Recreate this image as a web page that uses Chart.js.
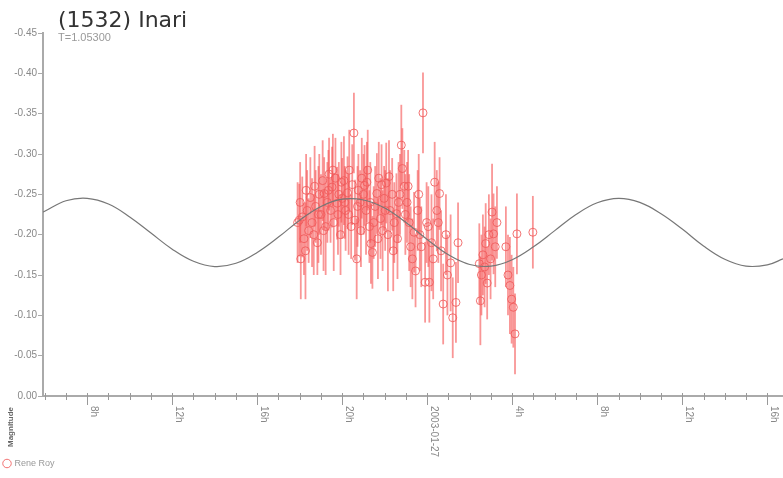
<!DOCTYPE html>
<html>
<head>
<meta charset="utf-8">
<script src="https://cdn.jsdelivr.net/npm/chart.js@4/dist/chart.umd.min.js"></script>
<style>
  html, body { margin: 0; padding: 0; background: #fff; }
  #wrap { width: 783px; height: 478px; }
</style>
</head>
<body>
<div id="wrap"><canvas id="lightcurve"></canvas></div>
<script>
// hours counted from 2003-01-26 00:00
const curveHours = [5.92, 6, 7, 8, 9, 10, 11, 12, 13, 14, 15, 16, 17, 18, 19, 20, 21, 22, 23, 24,
  25, 26, 27, 28, 29, 30, 31, 32, 33, 34, 35, 36, 37, 38, 39, 40, 40.74];
const curveMags = [-0.228, -0.229, -0.242, -0.245, -0.238, -0.222, -0.202, -0.182, -0.167, -0.1605,
  -0.1645, -0.178, -0.197, -0.218, -0.235, -0.244, -0.243, -0.233, -0.215, -0.194,
  -0.175, -0.163, -0.161, -0.169, -0.185, -0.205, -0.225, -0.2395, -0.245, -0.240,
  -0.226, -0.207, -0.186, -0.1695, -0.161, -0.1625, -0.170];

// Rene Roy observations
const obsHours = [
  17.90, 17.98, 18.02, 18.05, 18.12, 18.20, 18.27, 18.30, 18.35, 18.42,
  18.50, 18.58, 18.66, 18.70, 18.75, 18.83, 18.88, 18.92, 19.00, 19.08,
  19.12, 19.15, 19.22, 19.30, 19.35, 19.38, 19.45, 19.52, 19.56, 19.60,
  19.68, 19.76, 19.80, 19.84, 19.92, 19.96, 20.00, 20.08, 20.12, 20.16,
  20.25, 20.30, 20.33, 20.42, 20.47, 20.55, 20.60, 20.68, 20.72, 20.76,
  20.84, 20.88, 20.92, 21.00, 21.05, 21.12, 21.16, 21.20, 21.28, 21.32,
  21.35, 21.42, 21.48, 21.55, 21.63, 21.68, 21.72, 21.80, 21.85, 21.90,
  21.97, 22.02, 22.07, 22.15, 22.20, 22.25, 22.35, 22.40, 22.45, 22.55,
  22.60, 22.65, 22.72, 22.78, 22.83, 22.92, 22.97, 23.05, 23.10, 23.15,
  23.22, 23.30, 23.38, 23.45, 23.55, 23.60, 23.65, 23.72, 23.80, 23.90,
  23.97, 24.05, 24.10, 24.20, 24.28, 24.35, 24.45, 24.52, 24.58, 24.65,
  24.75, 24.88, 24.95, 25.10, 25.20, 25.35, 25.45, 26.45, 26.50, 26.55,
  26.62, 26.70, 26.75, 26.82, 26.90, 26.98, 27.05, 27.12, 27.20, 27.28,
  27.70, 27.80, 27.89, 27.97, 28.05, 28.13, 28.22, 28.97
];
const obsMags = [
  -0.215, -0.218, -0.240, -0.170, -0.222, -0.195, -0.180, -0.255, -0.230, -0.205,
  -0.246, -0.215, -0.200, -0.260, -0.235, -0.190, -0.225, -0.250, -0.225, -0.267,
  -0.205, -0.251, -0.210, -0.240, -0.255, -0.275, -0.230, -0.259, -0.280, -0.215,
  -0.270, -0.239, -0.225, -0.250, -0.200, -0.265, -0.245, -0.267, -0.240, -0.230,
  -0.252, -0.225, -0.280, -0.210, -0.262, -0.326, -0.218, -0.170, -0.235, -0.255,
  -0.240, -0.205, -0.270, -0.250, -0.261, -0.230, -0.265, -0.280, -0.210, -0.240,
  -0.189, -0.178, -0.215, -0.235, -0.251, -0.195, -0.270, -0.220, -0.262, -0.205,
  -0.245, -0.230, -0.264, -0.200, -0.272, -0.230, -0.250, -0.180, -0.215, -0.226,
  -0.195, -0.240, -0.250, -0.311, -0.282, -0.260, -0.225, -0.240, -0.260, -0.215,
  -0.185, -0.170, -0.203, -0.155, -0.230, -0.250, -0.200, -0.185, -0.351, -0.141,
  -0.215, -0.210, -0.141, -0.190, -0.170, -0.265, -0.230, -0.215, -0.251, -0.180,
  -0.114, -0.200, -0.150, -0.165, -0.097, -0.116, -0.190, -0.164, -0.118, -0.150,
  -0.175, -0.160, -0.189, -0.140, -0.200, -0.170, -0.228, -0.201, -0.185, -0.215,
  -0.185, -0.150, -0.137, -0.120, -0.110, -0.077, -0.201, -0.203
];
const obsErrs = [
  0.050, 0.045, 0.050, 0.050, 0.050, 0.045, 0.060, 0.045, 0.050, 0.040,
  0.050, 0.055, 0.050, 0.050, 0.045, 0.040, 0.060, 0.050, 0.050, 0.050,
  0.050, 0.045, 0.060, 0.050, 0.050, 0.045, 0.040, 0.050, 0.045, 0.060,
  0.050, 0.045, 0.050, 0.040, 0.050, 0.050, 0.050, 0.055, 0.045, 0.050,
  0.045, 0.050, 0.050, 0.040, 0.050, 0.050, 0.050, 0.050, 0.050, 0.045,
  0.040, 0.045, 0.050, 0.050, 0.050, 0.055, 0.050, 0.050, 0.045, 0.050,
  0.050, 0.045, 0.045, 0.050, 0.050, 0.050, 0.045, 0.050, 0.050, 0.050,
  0.040, 0.050, 0.050, 0.070, 0.045, 0.050, 0.045, 0.050, 0.050, 0.050,
  0.050, 0.050, 0.050, 0.050, 0.050, 0.045, 0.050, 0.050, 0.045, 0.060,
  0.050, 0.050, 0.050, 0.045, 0.050, 0.050, 0.045, 0.050, 0.050, 0.050,
  0.050, 0.050, 0.050, 0.060, 0.050, 0.050, 0.050, 0.050, 0.045, 0.050,
  0.050, 0.050, 0.050, 0.060, 0.050, 0.050, 0.050, 0.050, 0.055, 0.050,
  0.050, 0.050, 0.050, 0.045, 0.050, 0.050, 0.060, 0.050, 0.050, 0.045,
  0.050, 0.050, 0.060, 0.055, 0.050, 0.050, 0.050, 0.045
];

const majorTickHours = [8, 12, 16, 20, 24, 28, 32, 36, 40];
const majorTickLabels = ['8h', '12h', '16h', '20h', '2003-01-27', '4h', '8h', '12h', '16h'];

const observer = 'Rene Roy';
const titleText = '(1532) Inari';
const subtitleText = 'T=1.05300';

// barras de error detras de los circulos
const errorBars = {
  id: 'errorBars',
  beforeDatasetsDraw(chart) {
    const ctx = chart.ctx;
    const xs = chart.scales.x, ys = chart.scales.y;
    const area = chart.chartArea;
    ctx.save();
    ctx.beginPath();
    ctx.rect(area.left, area.top, area.right - area.left, area.bottom - area.top);
    ctx.clip();
    ctx.strokeStyle = 'rgba(245, 80, 80, 0.6)';
    ctx.lineWidth = 1.8;
    obsHours.forEach((h, i) => {
      const x = xs.getPixelForValue(h);
      ctx.beginPath();
      ctx.moveTo(x, ys.getPixelForValue(obsMags[i] - obsErrs[i]));
      ctx.lineTo(x, ys.getPixelForValue(obsMags[i] + obsErrs[i]));
      ctx.stroke();
    });
    ctx.restore();
  }
};

// ticks del eje x, etiquetas giradas y titulos
const decorations = {
  id: 'decorations',
  afterDraw(chart) {
    const ctx = chart.ctx;
    const xs = chart.scales.x;
    const bottom = chart.chartArea.bottom;
    ctx.save();
    ctx.strokeStyle = '#999';
    ctx.lineWidth = 1;
    for (let h = Math.ceil(xs.min); h <= xs.max; h++) {
      const x = Math.round(xs.getPixelForValue(h)) + 0.5;
      const idx = majorTickHours.indexOf(h);
      ctx.beginPath();
      ctx.moveTo(x, bottom - 3);
      ctx.lineTo(x, bottom + (idx >= 0 ? 9 : 4));
      ctx.stroke();
      if (idx >= 0) {
        ctx.save();
        ctx.translate(x + 1, bottom + 10);
        ctx.rotate(Math.PI / 2);
        ctx.fillStyle = '#888';
        ctx.font = '10px "Liberation Sans", Arial, sans-serif';
        ctx.textAlign = 'left';
        ctx.textBaseline = 'bottom';
        ctx.fillText(majorTickLabels[idx], 0, 0);
        ctx.restore();
      }
    }

    ctx.fillStyle = '#333';
    ctx.font = '22px "DejaVu Sans", sans-serif';
    ctx.textBaseline = 'alphabetic';
    ctx.textAlign = 'left';
    ctx.fillText(titleText, 58, 27);
    ctx.fillStyle = '#999';
    ctx.font = '11px "Liberation Sans", Arial, sans-serif';
    ctx.fillText(subtitleText, 58, 41);

    ctx.save();
    ctx.translate(13, 447);
    ctx.rotate(-Math.PI / 2);
    ctx.fillStyle = '#666';
    ctx.font = 'bold 8px "Liberation Sans", Arial, sans-serif';
    ctx.fillText('Magnitude', 0, 0);
    ctx.restore();
    ctx.restore();
  }
};

const ctx = document.getElementById('lightcurve').getContext('2d');
new Chart(ctx, {
  type: 'scatter',
  data: {
    datasets: [
      {
        label: observer,
        data: obsHours.map((h, i) => ({ x: h, y: obsMags[i] })),
        pointRadius: 4,
        pointBorderWidth: 1,
        borderColor: 'rgba(240, 90, 90, 0.85)',
        backgroundColor: 'rgba(255, 255, 255, 0)',
        order: 2
      },
      {
        type: 'line',
        label: 'fit',
        data: curveHours.map((h, i) => ({ x: h, y: curveMags[i] })),
        borderColor: '#777',
        borderWidth: 1.2,
        pointRadius: 0,
        tension: 0.4,
        fill: false,
        order: 1
      }
    ]
  },
  options: {
    responsive: true,
    maintainAspectRatio: false,
    animation: false,
    layout: { autoPadding: false, padding: { top: 33, left: 0, right: 0, bottom: 0 } },
    scales: {
      x: {
        type: 'linear',
        min: 5.92,
        max: 40.74,
        ticks: { display: false, stepSize: 1, includeBounds: false },
        grid: { display: false },
        border: { display: true, color: '#aaa', width: 2 },
        afterFit: (s) => { s.height = 59; }
      },
      y: {
        min: -0.45,
        max: 0,
        reverse: true,
        ticks: {
          stepSize: 0.05,
          color: '#888',
          font: { size: 10, family: '"Liberation Sans", Arial, sans-serif' },
          padding: 1,
          callback: (v) => (Math.abs(v) < 1e-9 ? 0 : v).toFixed(2)
        },
        grid: { display: true, drawOnChartArea: false, tickLength: 5, color: '#aaa' },
        border: { display: true, color: '#aaa', width: 2 },
        afterFit: (s) => { s.width = 43; }
      }
    },
    plugins: {
      legend: {
        position: 'bottom',
        align: 'start',
        labels: {
          filter: (item) => item.datasetIndex === 0,
          usePointStyle: true,
          pointStyle: 'circle',
          boxWidth: 6,
          boxHeight: 6,
          padding: 4,
          color: '#999',
          font: { size: 9, family: '"Liberation Sans", Arial, sans-serif' }
        }
      },
      tooltip: { enabled: false }
    }
  },
  plugins: [errorBars, decorations]
});
</script>
</body>
</html>
